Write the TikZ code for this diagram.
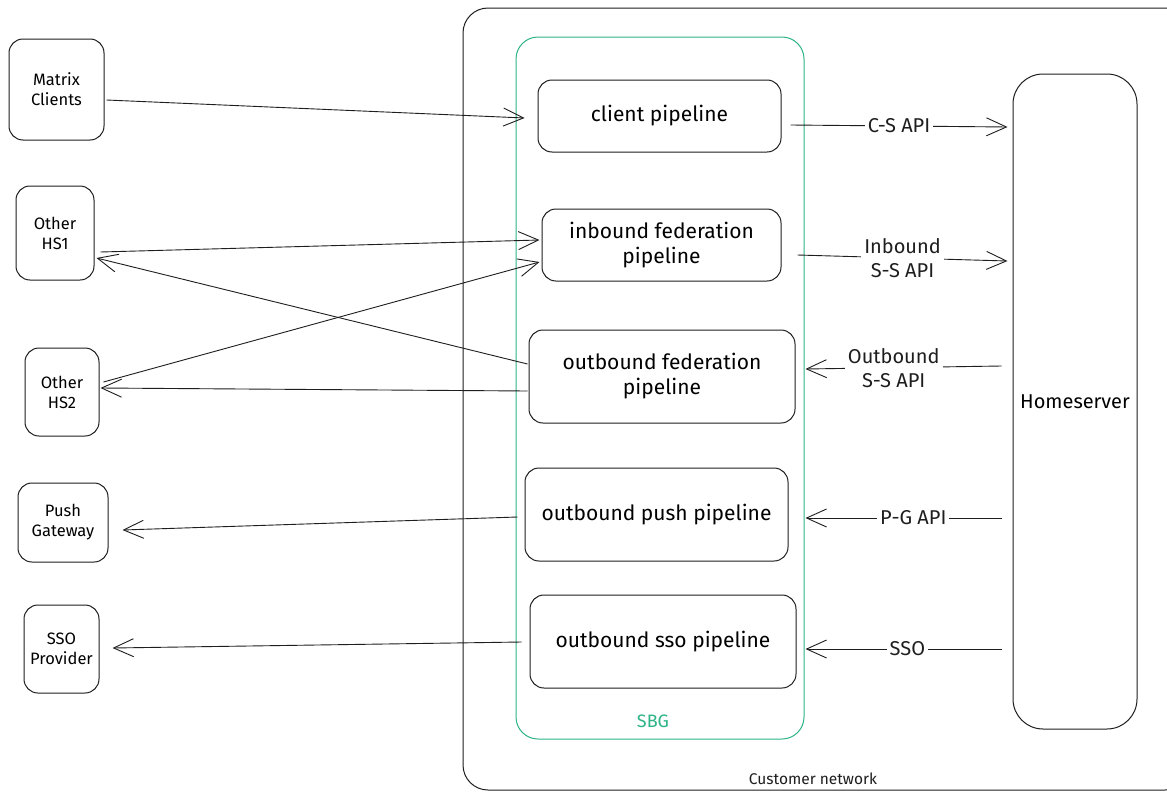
\documentclass[tikz,border=0pt]{standalone}
\usepackage{fontspec}
\setmainfont{Fira Sans}
\usetikzlibrary{arrows.meta}
\definecolor{ink}{RGB}{30,30,30}
\definecolor{sbggreen}{RGB}{46,180,135}
\tikzset{
  pbox/.style={draw=ink, line width=1pt, rounded corners=14pt, align=center, inner sep=2pt},
  sidebox/.style={pbox, font=\fontsize{16.5pt}{20pt}\selectfont},
  pipe/.style={pbox, font=\fontsize{21pt}{25pt}\selectfont},
  conn/.style={draw=ink, line width=0.9pt, -{Straight Barb[length=20pt,width=18pt,line width=0.9pt]}},
  apilbl/.style={fill=white, inner sep=3pt, align=center, font=\fontsize{20pt}{24pt}\selectfont, text=ink}
}
\begin{document}
\begin{tikzpicture}[x=1pt,y=-1pt]
\useasboundingbox (0,0) rectangle (1167,795);
\clip (0,0) rectangle (1167,795);
\fill[white] (0,0) rectangle (1167,795);
% Customer network
\draw[ink, line width=1pt, rounded corners=25pt] (463,8) rectangle (1190,790);
\node[font=\fontsize{15.5pt}{18pt}\selectfont, text=ink] (custlbl) at (813,779) {Customer network};
% SBG
\draw[sbggreen, line width=1pt, rounded corners=22pt] (516,37) rectangle (804,739);
\node[font=\fontsize{18pt}{21pt}\selectfont, text=sbggreen] (sbglbl) at (653,721) {SBG};
% left boxes
\node[sidebox, minimum width=95pt, minimum height=101pt] (mc) at (56.5,89.5) {Matrix\\Clients};
\node[sidebox, minimum width=78pt, minimum height=94pt] (hs1) at (55,233) {Other\\HS1};
\node[sidebox, minimum width=74pt, minimum height=88pt] (hs2) at (62,392) {Other\\HS2};
\node[sidebox, minimum width=90pt, minimum height=79pt] (pg) at (63,522.5) {Push\\Gateway};
\node[sidebox, minimum width=75pt, minimum height=88pt] (sso) at (61.5,649) {SSO\\Provider};
% pipelines
\node[pipe, minimum width=243pt, minimum height=72pt] (cp) at (659.5,116) {client pipeline};
\node[pipe, minimum width=239pt, minimum height=72pt] (ifp) at (661.5,245) {inbound federation\\pipeline};
\node[pipe, minimum width=266pt, minimum height=93pt] (ofp) at (662,376.5) {outbound federation\\pipeline};
\node[pipe, minimum width=263pt, minimum height=93pt] (opp) at (656.5,514.5) {outbound push pipeline};
\node[pipe, minimum width=266pt, minimum height=93pt] (osp) at (663,641.5) {outbound sso pipeline};
% homeserver
\node[pbox, rounded corners=30pt, font=\fontsize{20pt}{24pt}\selectfont, minimum width=124pt, minimum height=655pt] (hs) at (1075,401.5) {Homeserver};
% left connectors
\draw[conn] ([shift={(2pt,-10.5pt)}]mc.east) -- ([shift={(-13pt,-2pt)}]cp.west);
\draw[conn] ([shift={(6pt,-19pt)}]hs1.east) -- ([shift={(-2pt,5pt)}]ifp.west);
\draw[conn] ([shift={(4pt,10pt)}]hs2.east) -- ([shift={(-2pt,-17pt)}]ifp.west);
\draw[conn] ([shift={(-1pt,12.5pt)}]ofp.west) -- ([shift={(2pt,-25pt)}]hs1.east);
\draw[conn] ([shift={(-1pt,-14.5pt)}]ofp.west) -- ([shift={(1pt,4pt)}]hs2.east);
\draw[conn] ([shift={(-7pt,-2.5pt)}]opp.west) -- ([shift={(14pt,-7.5pt)}]pg.east);
\draw[conn] ([shift={(-8pt,-0.5pt)}]osp.west) -- ([shift={(13pt,1pt)}]sso.east);
% right connectors
\draw[conn] ([shift={(9pt,-9pt)}]cp.east) -- node[apilbl, midway] {C-S API} ([shift={(-5pt,274.5pt)}]hs.west);
\draw[conn] ([shift={(16pt,-10pt)}]ifp.east) -- node[apilbl, midway] {Inbound\\S-S API} ([shift={(-5pt,140.5pt)}]hs.west);
\draw[conn] ([shift={(-11pt,35.5pt)}]hs.west) -- node[apilbl, pos=0.55] {Outbound\\S-S API} ([shift={(10pt,7.5pt)}]ofp.east);
\draw[conn] ([shift={(-11pt,-116.5pt)}]hs.west) -- node[apilbl, pos=0.45] {P-G API} ([shift={(17pt,-3.5pt)}]opp.east);
\draw[conn] ([shift={(-11pt,-247.5pt)}]hs.west) -- node[apilbl, pos=0.48] {SSO} ([shift={(9pt,-7.5pt)}]osp.east);
\end{tikzpicture}
\end{document}
